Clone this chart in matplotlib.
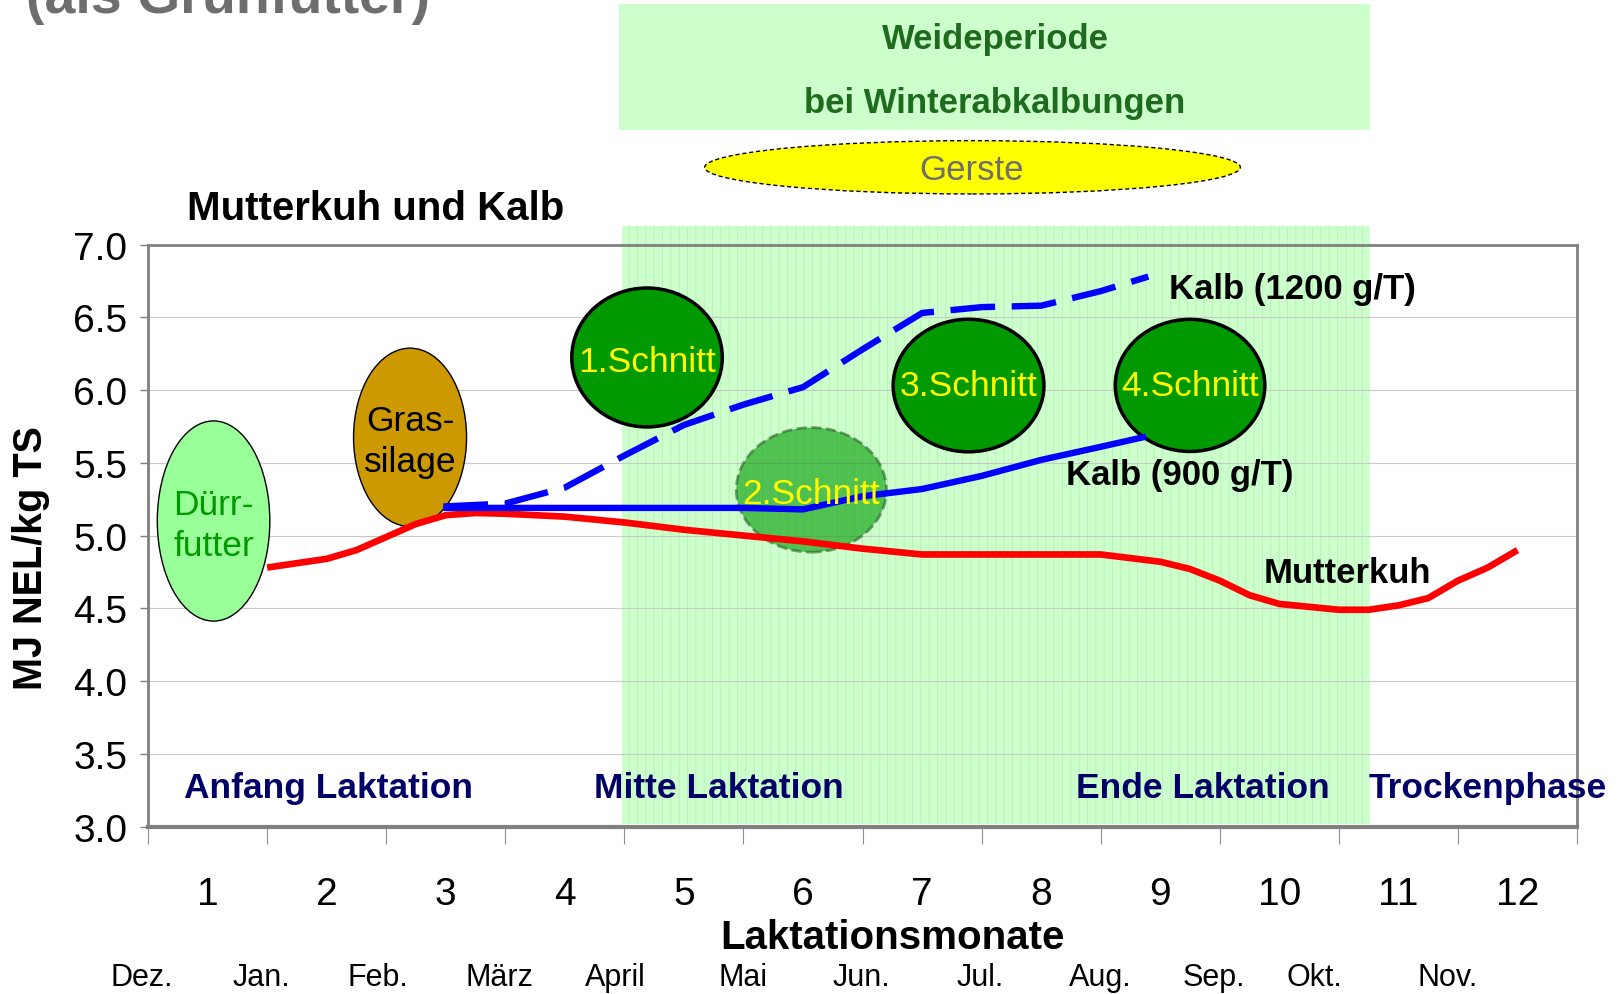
import matplotlib
matplotlib.use('Agg')
import matplotlib.pyplot as plt
from matplotlib.patches import Ellipse, Rectangle

plt.rcParams['font.family'] = ['Liberation Sans', 'DejaVu Sans']
plt.rcParams['hatch.linewidth'] = 0.6

# Laktationsmonate und Kalendermonate
monate = list(range(1, 13))
monatsnamen = ['Dez.', 'Jan.', 'Feb.', 'März', 'April', 'Mai',
               'Jun.', 'Jul.', 'Aug.', 'Sep.', 'Okt.', 'Nov.']

# Mutterkuh (rot)
kuh_x = [1.0, 1.5, 1.75, 2.0, 2.25, 2.5, 2.75, 3.0, 3.5, 4.0, 4.5, 5.0, 5.5, 6.0,
         6.5, 7.0, 7.5, 8.0, 8.5, 8.75, 9.0, 9.25, 9.5, 10.0, 10.25, 10.5, 10.75,
         11.0, 11.25, 11.5]
kuh_y = [4.78, 4.84, 4.90, 4.99, 5.08, 5.14, 5.155, 5.15, 5.13, 5.09, 5.04, 5.00,
         4.96, 4.91, 4.87, 4.87, 4.87, 4.87, 4.82, 4.77, 4.69, 4.59, 4.53, 4.49,
         4.49, 4.52, 4.57, 4.69, 4.78, 4.90]

# Kalb 900 g/T (blau)
kalb900_x = [2.48, 3.0, 3.5, 4.0, 4.5, 5.0, 5.5, 6.0, 6.5, 7.0, 7.5, 8.0, 8.38]
kalb900_y = [5.19, 5.19, 5.19, 5.19, 5.19, 5.19, 5.18, 5.27, 5.32, 5.41, 5.52, 5.61, 5.68]

# Kalb 1200 g/T (blau gestrichelt)
kalb1200_x = [2.48, 3.0, 3.5, 4.0, 4.5, 5.0, 5.5, 6.0, 6.5, 7.0, 7.5, 8.0, 8.4]
kalb1200_y = [5.20, 5.22, 5.33, 5.55, 5.76, 5.90, 6.02, 6.28, 6.53, 6.57, 6.58, 6.68, 6.78]

# Futtermittel-Ellipsen: Text, Mitte x, Mitte y, Breite, Höhe
futter = [
    ('Dürr-\nfutter', 0.55, 5.10, 0.945, 1.376),
    ('Gras-\nsilage', 2.20, 5.675, 0.949, 1.226),
    ('1.Schnitt', 4.19, 6.224, 1.264, 0.955),
    ('2.Schnitt', 5.57, 5.314, 1.261, 0.856),
    ('3.Schnitt', 6.89, 6.031, 1.266, 0.911),
    ('4.Schnitt', 8.75, 6.032, 1.256, 0.908),
]

phasen = ['Anfang Laktation', 'Mitte Laktation', 'Ende Laktation', 'Trockenphase']
phasen_x = [0.30, 3.745, 7.79, 10.25]

fig = plt.figure(figsize=(16.2, 9.95), dpi=100)
ax = fig.add_axes([0.0914, 0.1683, 0.8821, 0.5849])
ax.set_xlim(0, 12)
ax.set_ylim(3, 7)

# Weideperiode (grüner Hintergrund)
ax.add_patch(Rectangle((3.98, 3.015), 10.26 - 3.98, 7.128 - 3.015, facecolor='#CCFFCC',
                       edgecolor='none', zorder=0.2, clip_on=False))
ax.add_patch(Rectangle((3.98, 3.015), 10.26 - 3.98, 7.128 - 3.015, facecolor='none',
                       edgecolor='#B5F2B5', lw=0, hatch='||', zorder=0.25, clip_on=False))

ax.set_yticks([3.0, 3.5, 4.0, 4.5, 5.0, 5.5, 6.0, 6.5, 7.0])
ax.set_yticklabels(['%.1f' % v for v in ax.get_yticks()], fontsize=28)
ax.set_xticks(range(13))
ax.set_xticklabels([])
ax.tick_params(axis='y', length=6, width=1, color='#808080', pad=9)
ax.tick_params(axis='x', length=12, width=0.8, color='#909090')
ax.grid(axis='y', color='#C8C8C8', lw=0.8)
ax.set_axisbelow(True)
for s in ax.spines.values():
    s.set_color('#808080')
    s.set_linewidth(2)
ax.spines['bottom'].set_linewidth(3)

for i, (txt, cx, cy, w, h) in enumerate(futter):
    if i == 0:
        fc, ec, lw, tc, al, ls = '#99FF99', 'black', 1.0, '#009900', 1, '-'
    elif i == 1:
        fc, ec, lw, tc, al, ls = '#CC9900', 'black', 1.0, 'black', 1, '-'
    elif i == 3:
        fc, ec, lw, tc, al, ls = '#009900', '#2F5F2F', 2.0, '#FFFF00', 0.6, '--'
    else:
        fc, ec, lw, tc, al, ls = '#009900', 'black', 2.5, '#FFFF00', 1, '-'
    ax.add_patch(Ellipse((cx, cy), w, h, facecolor=fc, edgecolor=ec, lw=lw,
                         alpha=al, ls=ls, zorder=3))
    ax.text(cx, cy + (0.0 if i >= 4 else -0.025), txt, ha='center', va='center',
            fontsize=25.5, color=tc, zorder=6, linespacing=1.3)

ax.plot(kuh_x, kuh_y, color='#FF0000', lw=4.8, zorder=4, solid_capstyle='butt')
ax.plot(kalb900_x, kalb900_y, color='#0000FF', lw=4.6, zorder=4, solid_capstyle='butt')
ax.plot(kalb1200_x, kalb1200_y, color='#0000FF', lw=4.6, zorder=4,
        linestyle=(0, (7, 2.6)), dash_capstyle='butt')

ax.text(8.57, 6.70, 'Kalb (1200 g/T)', fontsize=25, fontweight='bold', va='center', zorder=6)
ax.text(7.71, 5.42, 'Kalb (900 g/T)', fontsize=25, fontweight='bold', va='center', zorder=6)
ax.text(9.37, 4.745, 'Mutterkuh', fontsize=25, fontweight='bold', va='center', zorder=6)

for p, px in zip(phasen, phasen_x):
    ax.text(px, 3.265, p, fontsize=25.5, fontweight='bold', color='#000066',
            va='center', ha='left', zorder=6, clip_on=False)

tr = ax.get_xaxis_transform()
for m in monate:
    ax.text(m - 0.5, -0.116, str(m), transform=tr, ha='center', va='center', fontsize=28)
monat_pos = [-0.05, 0.95, 1.93, 2.95, 3.92, 5.0, 5.99, 6.99, 8.0, 8.95, 9.79, 10.91]
for name, mx in zip(monatsnamen, monat_pos):
    ax.text(mx, -0.258, name, transform=tr, ha='center', va='center', fontsize=22)
ax.text(6.25, -0.19, 'Laktationsmonate', transform=tr, ha='center', va='center',
        fontsize=29, fontweight='bold')

fig.text(31 / 1620, 1 - 558 / 995, 'MJ NEL/kg TS', rotation=90, ha='center', va='center',
         fontsize=28.5, fontweight='bold')
fig.text(187 / 1620, 1 - 209 / 995, 'Mutterkuh und Kalb', ha='left', va='center',
         fontsize=29, fontweight='bold')
fig.text(26 / 1620, 1 - 13 / 995, '(als Grünfutter)', ha='left', va='baseline',
         fontsize=40, fontweight='bold', color='#6E6E6E')

# Weideperiode-Kasten oben
fig.add_artist(Rectangle((619 / 1620, 1 - 131 / 995), 751 / 1620, 126 / 995,
                         transform=fig.transFigure, facecolor='#CCFFCC', edgecolor='none'))
fig.text(995 / 1620, 1 - 40 / 995, 'Weideperiode', ha='center', va='center',
         fontsize=25, fontweight='bold', color='#1E6B1E')
fig.text(995 / 1620, 1 - 103 / 995, 'bei Winterabkalbungen', ha='center', va='center',
         fontsize=25, fontweight='bold', color='#1E6B1E')

# Gerste
fig.add_artist(Ellipse((972.5 / 1620, 1 - 168.3 / 995), 535.7 / 1620, 53.3 / 995,
                       transform=fig.transFigure, facecolor='#FFFF00', edgecolor='black',
                       lw=1, ls=(0, (3, 2))))
fig.text(971 / 1620, 1 - 171 / 995, 'Gerste', ha='center', va='center', fontsize=25,
         color='#6E6E6E')

fig.savefig('out.png', dpi=100)
